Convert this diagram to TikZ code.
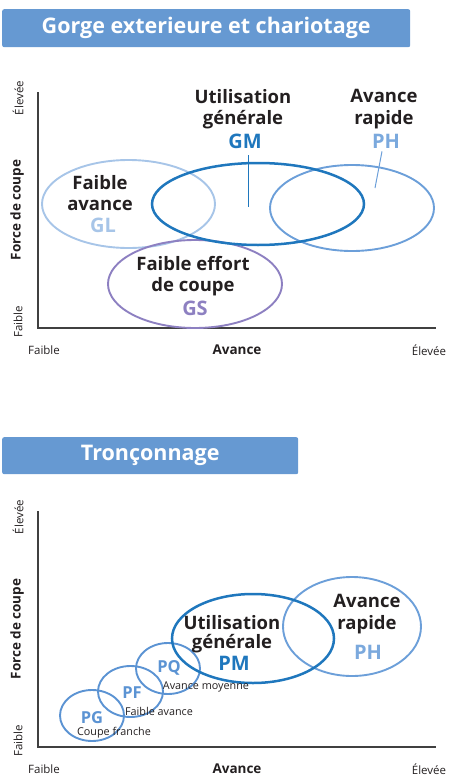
\documentclass[tikz,border=0pt]{standalone}
\usepackage{fontspec}
\setmainfont{Open Sans}
\definecolor{ink}{HTML}{231F20}
\definecolor{bandc}{HTML}{6699D2}
\definecolor{axisc}{HTML}{404040}
\definecolor{glc}{HTML}{A7C5E8}
\definecolor{gmc}{HTML}{1F77BD}
\definecolor{phc}{HTML}{6C9FD9}
\definecolor{gsc}{HTML}{8D80C1}
\definecolor{pxc}{HTML}{5B93D3}
\begin{document}
\begin{tikzpicture}[x=1pt,y=-1pt,
	band/.style={fill=bandc, rounded corners=2pt, text=white, font=\bfseries\fontsize{21.5}{24}\selectfont, anchor=north west},
	axis/.style={draw=axisc, line width=1.2pt},
	tick/.style={text=ink, font=\fontsize{11.5}{13}\selectfont, inner sep=0pt},
	axlabel/.style={text=ink, font=\bfseries\fontsize{13.5}{15}\selectfont, inner sep=0pt},
	ring/.style={line width=1.9pt},
	toolname/.style={text=ink, align=center, inner sep=0pt, font=\bfseries\fontsize{18.5}{21.5}\selectfont},
	code/.style={font=\bfseries\fontsize{20}{22}\selectfont, inner sep=0pt},
	small/.style={text=ink, inner sep=0pt, font=\fontsize{10.8}{12}\selectfont}]
	\useasboundingbox (0,0) rectangle (449,779);
	
	% titles
	\node[band, minimum width=408pt, minimum height=38pt] (title1) at (2,9) {Gorge exterieure et chariotage};
	\node[band, minimum width=296pt, minimum height=37pt] (title2) at (2,437) {Tronçonnage};
	
	% both frames
	\foreach \o/\n in {0/a,419/b}
	{
		\draw[axis] (38,92+\o) -- (38,328+\o) -- (436,328+\o);
		\node[tick, rotate=90] (yhi\n) at (18,98+\o) {Élevée};
		\node[axlabel, rotate=90] (ylab\n) at (17,210+\o) {Force de coupe};
		\node[tick, rotate=90] (ylo\n) at (18,322+\o) {Faible};
		\node[tick] (xlo\n) at (44,350+\o) {Faible};
		\node[axlabel] (xlab\n) at (237,350+\o) {Avance};
		\node[tick] (xhi\n) at (429,350+\o) {Élevée};
	}
	
	% gorge exterieure
	\draw[ring, glc] (128.5,204) ellipse (86.5 and 44);
	\draw[ring, gsc] (195,284) ellipse (87 and 44);
	\draw[ring, phc] (352,208) ellipse (82 and 43);
	\draw[gmc, line width=2.5pt] (258,204) ellipse (106 and 41);
	
	\node[toolname] (gmname) at (243,109) {Utilisation\\générale};
	\node[code, text=gmc] (gm) at (245,141) {GM};
	\coordinate (gmtip) at (248,207);
	\draw[gmc, line width=1pt] (gmtip |- 0,155) -- (gmtip);
	
	\node[toolname] (phname) at (384,109) {Avance\\rapide};
	\node[code, text=phc!90] (ph) at (386,141) {PH};
	\coordinate (phtip) at (375,188);
	\draw[phc, line width=1pt] ([shift={(-4,3)}]ph.south) -- (phtip);
	
	\node[toolname] (glname) at (100,193) {Faible\\avance};
	\node[code, text=glc] (gl) at (103,225) {GL};
	
	\node[toolname] (gsname) at (193,276) {Faible effort\\de coupe};
	\node[code, text=gsc] (gs) at (195,308) {GS};
	
	% tronconnage
	\draw[ring, pxc] (92,715.5) ellipse (32 and 25.5);
	\draw[ring, pxc] (130.5,691.5) ellipse (32.5 and 25.5);
	\draw[ring, pxc] (168,668.5) ellipse (32 and 25.5);
	\draw[ring, phc] (352,626.5) ellipse (69 and 49.5);
	\draw[gmc, line width=2.5pt] (253,638.5) ellipse (81 and 44.5);
	
	\node[toolname, font=\bfseries\fontsize{18.5}{19}\selectfont] (pmname) at (232,634) {Utilisation\\générale};
	\node[code, text=gmc] (pm) at (234,663) {PM};
	\node[toolname, font=\bfseries\fontsize{18.5}{22}\selectfont] (ph2name) at (367,614) {Avance\\rapide};
	\node[code, text=phc!90] (ph2) at (368,652) {PH};
	
	\node[code, text=pxc, font=\bfseries\fontsize{16.5}{18}\selectfont] (pq) at (169,668) {PQ};
	\node[small] (pqtxt) at (206,687) {Avance moyenne};
	\node[code, text=pxc, font=\bfseries\fontsize{16.5}{18}\selectfont] (pf) at (132,693) {PF};
	\node[small] (pftxt) at (159,711) {Faible avance};
	\node[code, text=pxc, font=\bfseries\fontsize{16.5}{18}\selectfont] (pg) at (92,718) {PG};
	\node[small] (pgtxt) at (114,733) {Coupe franche};
\end{tikzpicture}
\end{document}
